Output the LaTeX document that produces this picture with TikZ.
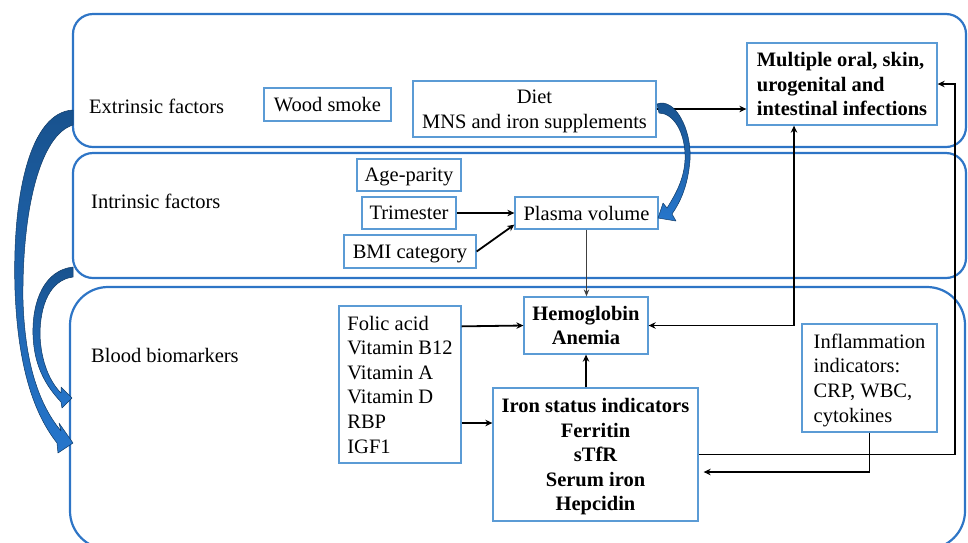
\documentclass[tikz,border=0pt]{standalone}
\usepackage{fontspec}
\setmainfont{Liberation Serif}
\usetikzlibrary{arrows.meta,calc}
\definecolor{panelblue}{HTML}{2E75C6}
\definecolor{boxblue}{HTML}{5B9BD5}
\definecolor{arrdark}{HTML}{18528E}
\definecolor{arrlight}{HTML}{2676CC}
\definecolor{arredge}{HTML}{0F3A66}
\begin{document}
\begin{tikzpicture}[x=1pt,y=-1pt,
  every node/.style={font=\fontsize{20.5}{24.6}\selectfont, inner sep=0pt, text depth=0pt},
  panel/.style={draw=panelblue, line width=2.2pt},
  box/.style={draw=boxblue, line width=1.3pt},
  arr/.style={draw=black, line width=1.8pt, -{Stealth[length=7pt,width=6.5pt]}},
  darr/.style={draw=black, line width=1.8pt, {Stealth[length=7pt,width=6.5pt]}-{Stealth[length=7pt,width=6.5pt]}},
  thinarr/.style={draw=black!75, line width=1pt, -{Stealth[length=7pt,width=5.5pt]}},
  blockarrow/.style={top color=arrdark, bottom color=arrlight, draw=arredge, line width=0.5pt, line join=round}]
\useasboundingbox (0,0) rectangle (968,542);
\clip (0,0) rectangle (968,542);

% panels
\draw[panel, rounded corners=20pt] (73,14) rectangle (966,147);
\draw[panel, rounded corners=20pt] (73,153) rectangle (966,278);
\draw[panel, rounded corners=38pt] (70,287) rectangle (965,549);

% panel labels
\node[anchor=west] (extr) at (89,106) {Extrinsic factors};
\node[anchor=west] (intr) at (91,201) {Intrinsic factors};
\node[anchor=west] (blood) at (91,355) {Blood biomarkers};

% boxes
\node[box, minimum width=127pt, minimum height=33pt] (wood) at (327.5,104.5) {Wood smoke};
\node[box, minimum width=243pt, minimum height=56pt, align=center] (diet) at (534.5,109) {Diet\\MNS and iron supplements};
\node[box, minimum width=190pt, minimum height=82pt, align=left, font=\fontsize{20.5}{24.6}\selectfont\bfseries] (inf) at (842,84) {Multiple oral, skin,\\urogenital and\\intestinal infections};
\node[box, minimum width=104pt, minimum height=32pt] (age) at (409,175) {Age-parity};
\node[box, minimum width=94pt, minimum height=32pt] (tri) at (409,213) {Trimester};
\node[box, minimum width=132pt, minimum height=33pt] (bmi) at (410,251.5) {BMI category};
\node[box, minimum width=143pt, minimum height=32pt] (plasma) at (586.5,213) {Plasma volume};
\node[box, minimum width=124pt, minimum height=57pt, align=center, font=\fontsize{20.5}{24.6}\selectfont\bfseries] (hb) at (586,325.5) {Hemoglobin\\Anemia};
\node[box, minimum width=122pt, minimum height=157pt, align=left] (folic) at (400,384.5) {Folic acid\\Vitamin B12\\Vitamin A\\Vitamin D\\RBP\\IGF1};
\node[box, minimum width=205pt, minimum height=133pt, align=center, font=\fontsize{20.5}{24.6}\selectfont\bfseries] (iron) at (595.5,454.5) {Iron status indicators\\Ferritin\\sTfR\\Serum iron\\Hepcidin};
\node[box, minimum width=135pt, minimum height=108pt, align=left] (infl) at (869.5,378) {Inflammation\\indicators:\\CRP, WBC,\\cytokines};

% helper coordinates
\coordinate (c1) at (794,325.5);
\coordinate (c2) at (955,454);
\coordinate (c3) at (869.5,472);

% connectors
\draw[arr] (diet.east) -- (diet.east -| inf.west);
\draw[arr] (tri.east) -- (plasma.west);
\draw[arr] (bmi.east) -- ([yshift=5pt]plasma.south west);
\draw[thinarr] (plasma.south) -- (plasma.south |- hb.north);
\draw[arr] ([yshift=-21pt]folic.north east) -- (hb.west);
\draw[arr] ([yshift=-38.5pt]folic.east) -- ([yshift=-38.5pt]folic.east -| iron.west);
\draw[arr] (hb.south |- iron.north) -- (hb.south);
\draw[darr] (hb.east) -- (c1) -- (c1 |- inf.south);
\draw[arr] (iron.east) -- (iron.east -| c2) -- (c2 |- inf.east) -- (inf.east);
\draw[arr, shorten >=5pt] (infl.south) -- (c3) -- (c3 -| iron.east);

% block arrows
\path[blockarrow] (657,104) .. controls (675,97) and (692,130) .. (690,160)
  .. controls (688,185) and (681,201) .. (672,214) -- (676,221) -- (658,218) -- (663,203) -- (667,208)
  .. controls (675,195) and (684,180) .. (685,160)
  .. controls (686,132) and (673,113) .. (659,113) -- cycle;
\path[blockarrow] (73,110) .. controls (30,112) and (12,195) .. (15,290)
  .. controls (18,370) and (35,415) .. (57,443) -- (58,453) -- (73,443) -- (59,423) -- (61,431)
  .. controls (42,408) and (25,370) .. (23,300)
  .. controls (22,210) and (40,135) .. (73,125) -- cycle;
\path[blockarrow] (73,267) .. controls (45,270) and (32,300) .. (33,335)
  .. controls (34,365) and (45,385) .. (61,402) -- (62,408) -- (72,398) -- (61,387) -- (61,393)
  .. controls (50,382) and (41,362) .. (40,335)
  .. controls (40,305) and (50,280) .. (73,277) -- cycle;
\end{tikzpicture}
\end{document}
